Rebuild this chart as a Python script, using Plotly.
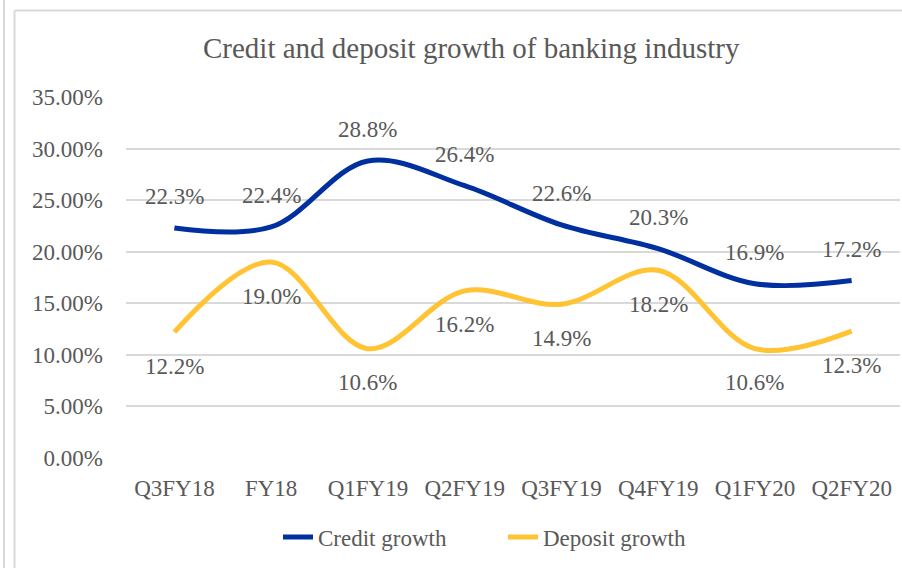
import plotly.graph_objects as go

categories = ["Q3FY18", "FY18", "Q1FY19", "Q2FY19", "Q3FY19", "Q4FY19", "Q1FY20", "Q2FY20"]
credit_growth = [22.3, 22.4, 28.8, 26.4, 22.6, 20.3, 16.9, 17.2]
deposit_growth = [12.2, 19.0, 10.6, 16.2, 14.9, 18.2, 10.6, 12.3]
y_ticks = [0, 5, 10, 15, 20, 25, 30, 35]

BLUE = "#0030A0"
YELLOW = "#FFC333"
GREY = "#595959"
GRID = "#D9D9D9"
FONT = "Liberation Serif"

L, R, T, B = 126, 2, 97, 110
W, H = 902, 568
pw, ph = W - L - R, H - T - B

def px(x):
    return (x - L) / pw

def py(y):
    return (H - B - y) / ph

fig = go.Figure()
fig.add_trace(go.Scatter(x=categories, y=credit_growth, name="Credit growth",
                         mode="lines", line=dict(color=BLUE, width=5, shape="spline", smoothing=1.0)))
fig.add_trace(go.Scatter(x=categories, y=deposit_growth, name="Deposit growth",
                         mode="lines", line=dict(color=YELLOW, width=5, shape="spline", smoothing=1.0)))

for c, v in zip(categories, credit_growth):
    fig.add_annotation(x=c, y=v, text=f"{v:.1f}%", showarrow=False, yshift=31,
                       font=dict(family=FONT, size=23, color=GREY))
for c, v in zip(categories, deposit_growth):
    fig.add_annotation(x=c, y=v, text=f"{v:.1f}%", showarrow=False, yshift=-34,
                       font=dict(family=FONT, size=23, color=GREY))

fig.add_annotation(xref="paper", yref="paper", x=px(471.5), y=py(48), text="Credit and deposit growth of banking industry",
                   showarrow=False, xanchor="center", yanchor="middle",
                   font=dict(family=FONT, size=29, color=GREY))

border = dict(color=GRID, width=2)
fig.add_shape(type="line", xref="paper", yref="paper", x0=px(4), x1=px(4), y0=py(0), y1=py(H), line=border)
fig.add_shape(type="line", xref="paper", yref="paper", x0=px(14.5), x1=px(14.5), y0=py(10.5), y1=py(H), line=border)
fig.add_shape(type="line", xref="paper", yref="paper", x0=px(14.5), x1=px(W), y0=py(10.5), y1=py(10.5), line=border)

fig.update_layout(
    width=W, height=H,
    margin=dict(l=L, r=R, t=T, b=B, autoexpand=False),
    paper_bgcolor="white", plot_bgcolor="white",
    font=dict(family=FONT, size=23, color=GREY),
    hovermode=False,
    showlegend=True,
    legend=dict(orientation="h", x=px(278), xanchor="left", y=py(537), yanchor="middle",
                font=dict(family=FONT, size=23, color=GREY), entrywidth=180, entrywidthmode="pixels",
                tracegroupgap=0),
    xaxis=dict(type="category", range=[-0.5, 7.5], showgrid=False, zeroline=False, showline=False,
               automargin=False,
               ticks="", tickfont=dict(family=FONT, size=23, color=GREY), ticklabelstandoff=14),
    yaxis=dict(range=[0, 35], tickvals=y_ticks, ticktext=[f"{t:.2f}%" for t in y_ticks],
               automargin=False,
               showgrid=True, gridcolor=GRID, gridwidth=1.5, zeroline=False, showline=False,
               ticks="", tickfont=dict(family=FONT, size=23, color=GREY), ticklabelstandoff=22),
)

fig.write_html("out.html")
